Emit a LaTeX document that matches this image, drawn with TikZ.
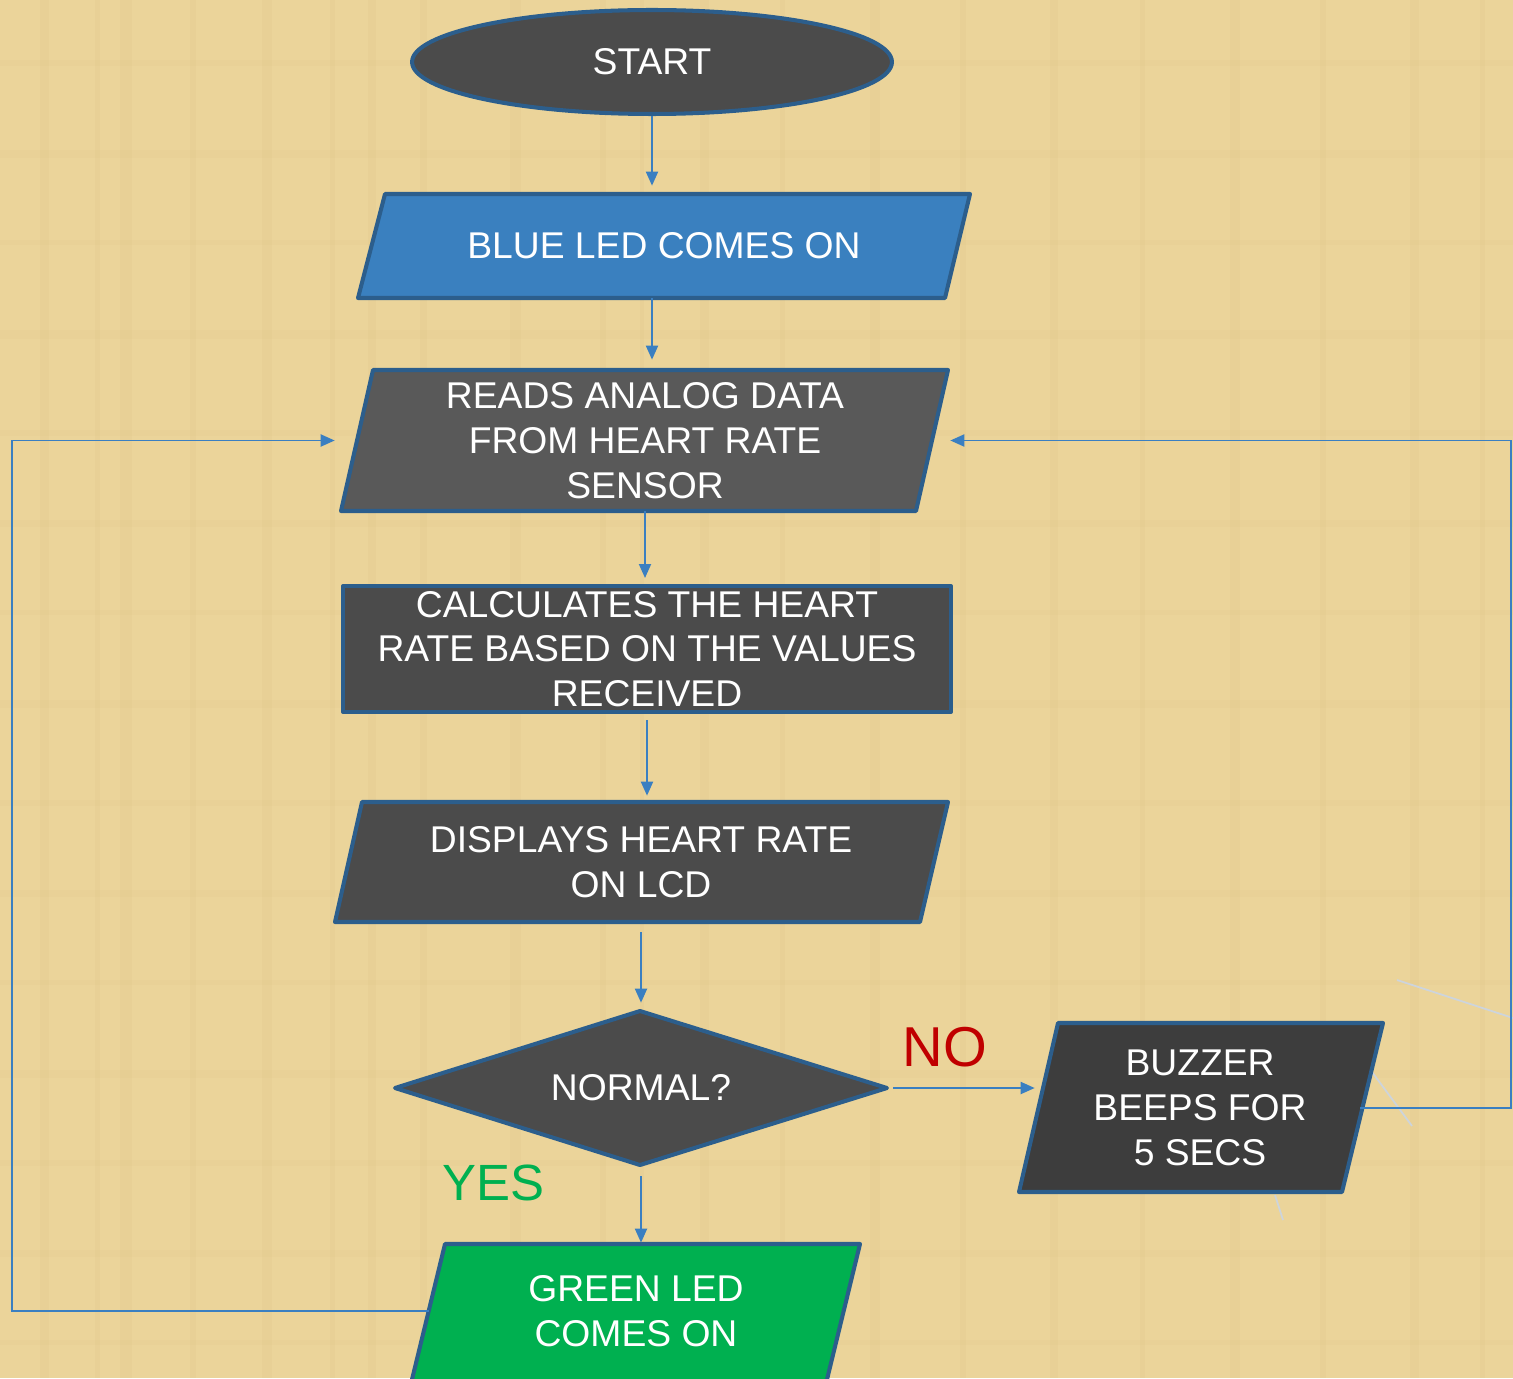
\documentclass[tikz,border=0pt]{standalone}
\usepackage{fontspec}
\setmainfont{Liberation Sans}
\usetikzlibrary{shapes.geometric,arrows.meta}
\definecolor{bgc}{RGB}{235,212,154}
\definecolor{bgd}{RGB}{218,190,126}
\definecolor{edgec}{RGB}{44,94,140}
\definecolor{arrc}{RGB}{58,127,193}
\definecolor{darkf}{RGB}{75,75,75}
\definecolor{readf}{RGB}{89,89,89}
\definecolor{buzf}{RGB}{61,61,61}
\definecolor{bluef}{RGB}{58,128,191}
\definecolor{greenf}{RGB}{0,176,80}
\definecolor{noc}{RGB}{192,0,0}
\definecolor{faint}{RGB}{205,212,220}
\tikzset{
  shapebox/.style={draw=edgec, line width=2.3pt, line join=round},
  txt/.style={text=white, align=center, font=\fontsize{21.2}{25.5}\selectfont, inner sep=0pt},
  arr/.style={draw=arrc, line width=1.1pt, -{Triangle[length=0.28cm,width=0.24cm]}},
}
\begin{document}
\begin{tikzpicture}[x=0.02cm,y=-0.02cm]
\useasboundingbox (0,0) rectangle (1513,1378);
\clip (0,0) rectangle (1513,1378);
\fill[bgc] (0,0) rectangle (1513,1378);
% subtle texture
\foreach \xx/\ww in {40/9,95/5,120/12,190/6,262/10,330/5,368/8,420/7,510/11,600/6,640/4,700/9,780/5,870/10,960/6,1050/8,1140/5,1230/10,1320/6,1410/9,1480/5}{
  \fill[bgd, opacity=0.14] (\xx,0) rectangle ++(\ww,1378);
}
\foreach \yy/\hh in {60/6,150/8,240/5,330/9,430/6,520/7,610/5,700/8,800/6,890/7,980/5,1070/8,1160/6,1250/7,1340/5}{
  \fill[bgd, opacity=0.10] (0,\yy) rectangle ++(1513,\hh);
}
% faint artifact lines
\draw[faint, line width=1pt] (1397,980) -- (1513,1018);
\draw[faint, line width=1pt] (1372,1072) -- (1412,1126);
\draw[faint, line width=1pt] (1275,1195) -- (1283,1220);

% START
\node[ellipse, shapebox, fill=darkf, minimum width=9.6cm, minimum height=2.08cm, txt] (start) at (652,62) {START};

% BLUE LED
\fill[bluef] (385,194) -- (970,194) -- (945,298) -- (358,298) -- cycle;
\draw[shapebox] (385,194) -- (970,194) -- (945,298) -- (358,298) -- cycle;
\node[txt, minimum height=2.08cm, minimum width=11.6cm] (blue) at (664,246) {BLUE LED COMES ON};

% READS
\fill[readf] (373,370) -- (948,370) -- (916,511) -- (341,511) -- cycle;
\draw[shapebox] (373,370) -- (948,370) -- (916,511) -- (341,511) -- cycle;
\node[txt, minimum height=2.82cm, minimum width=11.52cm] (reads) at (645,440.5) {READS ANALOG DATA\\FROM HEART RATE\\SENSOR};

% CALCULATES
\node[rectangle, shapebox, fill=darkf, minimum width=12.16cm, minimum height=2.52cm, txt, inner sep=0pt] (calc) at (647,649) {CALCULATES THE HEART\\RATE BASED ON THE VALUES\\RECEIVED};

% DISPLAYS
\fill[darkf] (362,802) -- (948,802) -- (920,922) -- (335,922) -- cycle;
\draw[shapebox] (362,802) -- (948,802) -- (920,922) -- (335,922) -- cycle;
\node[txt, minimum height=2.4cm, minimum width=11.4cm] (disp) at (641,862) {DISPLAYS HEART RATE\\ON LCD};

% NORMAL?
\fill[darkf] (395,1088) -- (640,1011) -- (887,1088) -- (640,1165) -- cycle;
\draw[shapebox] (395,1088) -- (640,1011) -- (887,1088) -- (640,1165) -- cycle;
\node[txt, minimum height=3.08cm, minimum width=9.84cm] (normal) at (641,1088) {NORMAL?};

% BUZZER
\fill[buzf] (1058,1023) -- (1383,1023) -- (1342,1192) -- (1019,1192) -- cycle;
\draw[shapebox] (1058,1023) -- (1383,1023) -- (1342,1192) -- (1019,1192) -- cycle;
\node[txt, minimum height=3.38cm, minimum width=6.4cm] (buzzer) at (1200,1108) {BUZZER\\BEEPS FOR\\5 SECS};

% GREEN LED
\fill[greenf] (445,1244) -- (860,1244) -- (822,1400) -- (407,1400) -- cycle;
\draw[shapebox] (445,1244) -- (860,1244) -- (822,1400) -- (407,1400) -- cycle;
\node[txt, minimum height=2.68cm, minimum width=8.28cm] (green) at (636,1311) {GREEN LED\\COMES ON};

% labels
\node[text=noc, font=\fontsize{32}{36}\selectfont, inner sep=0pt] (nolbl) at (945,1047) {NO};
\node[text=greenf, font=\fontsize{29}{34}\selectfont, inner sep=0pt] (yeslbl) at (493,1183) {YES};

% connectors
\draw[arr, shorten >=0.16cm] (start.south) -- (start.south |- blue.north);
\draw[arr, shorten >=0.2cm] (start.south |- blue.south) -- (start.south |- reads.north);
\draw[arr, shorten >=0.12cm] (reads.south) -- (reads.south |- calc.north);
\draw[arr, shorten <=0.12cm, shorten >=0.12cm] (calc.south) -- (calc.south |- disp.north);
\draw[arr, shorten <=0.2cm, shorten >=0.16cm] (disp.south) -- (disp.south |- normal.north);
\draw[arr, shorten <=0.22cm, shorten >=0.02cm] (normal.south) -- (normal.south |- green.north);
\draw[arr, shorten <=0.12cm, shorten >=0.1cm] (normal.east) -- (normal.east -| buzzer.west);

\coordinate (ll) at (12,0);
\coordinate (rl) at (1511,0);
\draw[arr, shorten >=0.44cm] (green.west) -- (green.west -| ll) -- (reads.west -| ll) -- (reads.west);
\draw[arr, shorten >=0.34cm] (buzzer.east) -- (buzzer.east -| rl) -- (reads.east -| rl) -- (reads.east);
\end{tikzpicture}
\end{document}
